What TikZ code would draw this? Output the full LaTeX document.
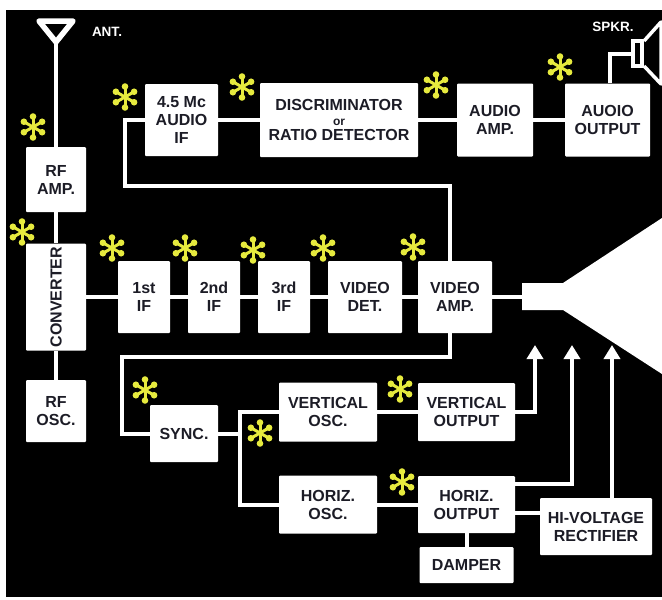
\documentclass[tikz,border=0pt]{standalone}
\usepackage{fontspec}
\setmainfont{Liberation Sans}
\usetikzlibrary{arrows.meta, positioning}

\definecolor{starcol}{RGB}{230,234,62}
\definecolor{inkcol}{RGB}{28,28,38}

\begin{document}
\begin{tikzpicture}[x=1pt, y=-1pt,
    blk/.style={fill=white, rounded corners=1pt, text=inkcol, align=center, inner sep=1pt,
        font=\bfseries\fontsize{16}{18}\selectfont},
    wire/.style={draw=white, line width=4pt},
    feed/.style={wire, -{Triangle[width=16pt,length=14pt]}},
    lbl/.style={text=white, font=\bfseries\fontsize{13.5}{15}\selectfont},
    spoke/.style={draw=starcol, line width=3pt, line cap=round}]

    \useasboundingbox (0,0) rectangle (662,600);
    \fill[white] (0,0) rectangle (662,600);
    \fill[black] (6,10) rectangle (662,597);

    % front end
    \node[blk, minimum width=60, minimum height=65] (rfamp) at (56,179.5) {RF\\AMP.};
    \node[blk, minimum width=60, minimum height=107] (conv) at (56,297) {\rotatebox{90}{CONVERTER}};
    \node[blk, minimum width=60, minimum height=62] (rfosc) at (56,411) {RF\\OSC.};

    \node[blk, minimum width=52, minimum height=72] (if1) at (144,297) {1st\\IF};
    \node[blk, minimum width=52, minimum height=72] (if2) at (214,297) {2nd\\IF};
    \node[blk, minimum width=52, minimum height=72] (if3) at (284,297) {3rd\\IF};
    \node[blk, minimum width=74, minimum height=72] (vdet) at (365,297) {VIDEO\\DET.};
    \node[blk, minimum width=74, minimum height=72] (vamp) at (455,297) {VIDEO\\AMP.};

    % sound
    \node[blk, minimum width=73, minimum height=72] (audif) at (181.5,120) {4.5 Mc\\AUDIO\\IF};
    \node[blk, minimum width=158, minimum height=74] (disc) at (339,120)
        {DISCRIMINATOR\\[-3pt]{\fontsize{12}{13}\selectfont or}\\[-3pt]RATIO DETECTOR};
    \node[blk, minimum width=76, minimum height=73] (aamp) at (495,120) {AUDIO\\AMP.};
    \node[blk, minimum width=85, minimum height=73] (aout) at (607.5,120) {AUOIO\\OUTPUT};

    % sweep
    \node[blk, minimum width=68, minimum height=57] (sync) at (184,433.5) {SYNC.};
    \node[blk, minimum width=98, minimum height=59] (vosc) at (328,412) {VERTICAL\\OSC.};
    \node[blk, minimum width=98, minimum height=58] (hosc) at (328,504.5) {HORIZ.\\OSC.};
    \node[blk, minimum width=97, minimum height=58] (vout) at (466.5,412) {VERTICAL\\OUTPUT};
    \node[blk, minimum width=97, minimum height=57] (hout) at (466.5,504.5) {HORIZ.\\OUTPUT};
    \node[blk, minimum width=94, minimum height=36] (damper) at (466.5,565) {DAMPER};
    \node[blk, minimum width=112, minimum height=57] (hv) at (596,526.5) {HI-VOLTAGE\\RECTIFIER};

    % antenna, speaker, picture tube
    \draw[white, line width=5.5pt, line join=round, fill=black] (39,21) -- (73,21) -- (56,42) -- cycle;
    \coordinate (ant) at (56,42);
    \node[lbl] (antlbl) at (107,32) {ANT.};
    \node[draw=white, fill=black, line width=4pt, minimum width=9, minimum height=25, inner sep=0] (spk) at (637.5,53.5) {};
    \draw[white, line width=3.5pt, line join=round] (644,41) -- (661,22) -- (661,84) -- (644,66);
    \node[lbl] (spklbl) at (613,27) {SPKR.};
    \fill[white] (522,283) -- (563,283) -- (662,218) -- (662,374) -- (563,310) -- (522,310) -- cycle;
    \coordinate (crt) at (522,297);

    \draw[wire] (ant) -- (rfamp);
    \draw[wire] (rfamp) -- (conv);
    \draw[wire] (conv) -- (rfosc);
    \draw[wire] (conv) -- (if1);
    \draw[wire] (if1) -- (if2);
    \draw[wire] (if2) -- (if3);
    \draw[wire] (if3) -- (vdet);
    \draw[wire] (vdet) -- (vamp);
    \draw[wire] (vamp) -- (crt);
    \draw[wire] ([xshift=-5pt]vamp.north) |- (125,186) |- (audif.west);
    \draw[wire] ([xshift=-5pt]vamp.south) |- (122,357) |- (sync.west);

    \draw[wire] (audif) -- (disc);
    \draw[wire] (disc) -- (aamp);
    \draw[wire] (aamp) -- (aout);
    \draw[wire] ([xshift=2.5pt]aout.north) |- (spk.west);

    \coordinate (split) at (240,433.5);
    \draw[wire] (sync) -- (split);
    \draw[wire] (vosc.west) -| (split) |- (hosc.west);
    \draw[wire] (vosc) -- (vout);
    \draw[wire] (hosc) -- (hout);
    \draw[wire] (hout) -- (damper);
    \draw[wire] ([yshift=-8pt]hout.east) -- ([yshift=-8pt]hout.east -| hv.west);

    \coordinate (tipa) at (535,345);
    \coordinate (tipb) at (572,345);
    \coordinate (tipc) at (612,345);
    \draw[feed] (vout.east) -| (tipa);
    \draw[feed] ([yshift=21pt]hout.east) -| (tipb);
    \draw[feed] (hv.north -| tipc) -- (tipc);

    % asterisks
    \foreach \sx/\sy in {33/127, 125/97, 242/87, 436/85, 560/67, 22/232, 112/248, 185/248,
                         253/250, 323/248, 413/247, 145/390, 260/433, 400/389, 402/482}
      \foreach \a in {30,90,...,330} {
        \draw[spoke] (\sx,\sy) -- ++(\a:9);
        \fill[starcol] (\sx,\sy) ++(\a:10.5) circle[radius=3.3];
      }
\end{tikzpicture}
\end{document}
